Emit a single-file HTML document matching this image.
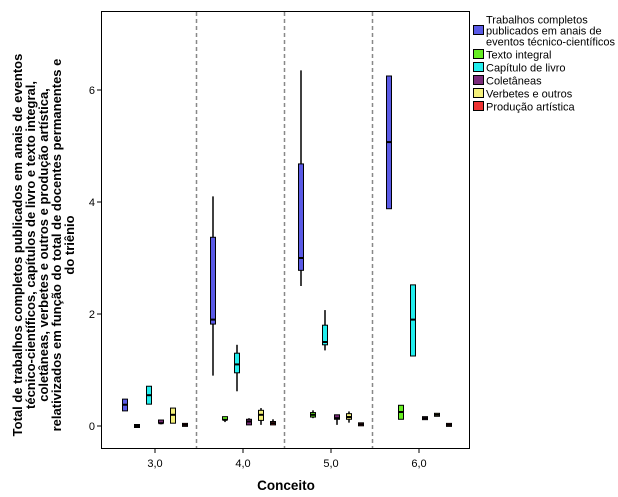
<!DOCTYPE html>
<html><head><meta charset="utf-8"><style>
body{margin:0;background:#fff;}
svg{display:block;font-family:"Liberation Sans",sans-serif;}
</style></head><body>
<svg id="c" width="618" height="497" viewBox="0 0 618 497">
<rect x="0" y="0" width="618" height="497" fill="#fff"/>
<rect x="101.5" y="11.5" width="368" height="437" fill="#fff" stroke="#000" stroke-width="1"/>
<g id="yt" font-weight="bold" font-size="13" text-anchor="middle" fill="#000">
<text transform="translate(22,245) rotate(-90)">Total de trabalhos completos publicados em anais de eventos</text>
<text transform="translate(35,245) rotate(-90)">técnico-científicos, capítulos de livro e texto integral,</text>
<text transform="translate(48,245) rotate(-90)">coletâneas, verbetes e outros e produção artística,</text>
<text transform="translate(61,245) rotate(-90)">relativizados em função do total de docentes permanentes e</text>
<text transform="translate(74,245) rotate(-90)">do triênio</text>
</g>
<text x="286" y="490" text-anchor="middle" font-weight="bold" font-size="13.5">Conceito</text>
<g id="legend" font-size="11"></g>
<g id="marks"></g>
</svg>
<script>
const categories=["3,0","4,0","5,0","6,0"];
const seriesNames=["Trabalhos completos publicados em anais de eventos técnico-científicos","Texto integral","Capítulo de livro","Coletâneas","Verbetes e outros","Produção artística"];
const colors=["#5a5ae6","#66ee22","#22eeee","#7a2a7a","#f4f07a","#ee3333"];
const yTicks=[0,2,4,6];
// [min, q1, median, q3, max] per category per series
const blue=[[0.27,0.27,0.38,0.48,0.48],[0.9,1.82,1.9,3.37,4.1],[2.5,2.78,3.0,4.68,6.35],[3.88,3.88,5.07,6.25,6.25]];
const green=[[0,0,0,0,0],[0.07,0.09,0.11,0.14,0.16],[0.14,0.16,0.2,0.24,0.28],[0.12,0.12,0.25,0.37,0.37]];
const cyan=[[0.39,0.39,0.55,0.71,0.71],[0.62,0.95,1.1,1.3,1.45],[1.35,1.45,1.5,1.8,2.07],[1.25,1.25,1.9,2.52,2.52]];
const purple=[[0.03,0.03,0.05,0.08,0.08],[0.02,0.02,0.08,0.12,0.14],[0.02,0.12,0.14,0.2,0.2],[0.14,0.14,0.14,0.14,0.14]];
const yellow=[[0.05,0.05,0.2,0.32,0.32],[0.02,0.1,0.2,0.28,0.32],[0.06,0.12,0.16,0.22,0.26],[0.2,0.2,0.2,0.2,0.2]];
const red=[[0.02,0.02,0.02,0.02,0.02],[0.02,0.02,0.05,0.08,0.12],[0.03,0.03,0.03,0.03,0.03],[0.02,0.02,0.02,0.02,0.02]];
const series=[blue,green,cyan,purple,yellow,red];

const NS="http://www.w3.org/2000/svg";
const marks=document.getElementById('marks');
function y(v){return 426-56*v;}
function xc(i){return 155+88*i;}
function mk(t,a,p){const e=document.createElementNS(NS,t);for(const k in a)e.setAttribute(k,a[k]);(p||marks).appendChild(e);return e;}

yTicks.forEach(t=>{
  const l=mk('line',{x1:97,x2:101,y1:y(t),y2:y(t),stroke:'#000'});
  
  
  const tx=mk('text',{x:95,y:y(t)+4,'text-anchor':'end','font-size':11});
  tx.textContent=t;
  
  
});
categories.forEach((c,i)=>{
  const l=mk('line',{x1:xc(i),x2:xc(i),y1:449,y2:453,stroke:'#000'});
  
  
  const tx=mk('text',{x:xc(i),y:467,'text-anchor':'middle','font-size':11});
  tx.textContent=c;
  
  
  if(i>0){
    const d=mk('line',{x1:xc(i)-46.5,x2:xc(i)-46.5,y1:12,y2:448,stroke:'#888','stroke-width':1.5,'stroke-dasharray':'4,3'});
    
    
  }
});
series.forEach((s,si)=>{
  s.forEach((b,ci)=>{
    const cx=xc(ci)-30+12*si;
    const g=mk('g',{});
    
    
    mk('line',{x1:cx,x2:cx,y1:y(b[4]),y2:y(b[0]),stroke:'#000','stroke-width':1.5},g);
    const h=Math.max(y(b[1])-y(b[3]),3);
    mk('rect',{x:cx-2.5,y:y(b[3])-(h>3?0:1.5),width:5,height:h,fill:colors[si],stroke:'#000','stroke-width':1},g);
    mk('line',{x1:cx-2.5,x2:cx+2.5,y1:y(b[2]),y2:y(b[2]),stroke:'#000','stroke-width':2},g);
  });
});
const lg=document.getElementById('legend');
const rows=[[0,["Trabalhos completos","publicados em anais de","eventos técnico-científicos"]],[1,["Texto integral"]],[2,["Capítulo de livro"]],[3,["Coletâneas"]],[4,["Verbetes e outros"]],[5,["Produção artística"]]];
let ly=20;
rows.forEach(([si,lines])=>{
  const g=mk('g',{},lg);
  
  
  const mid=ly+(lines.length-1)*5.5;
  mk('rect',{x:473.5,y:mid-5.5,width:10,height:9,fill:colors[si],stroke:'#000'},g);
  lines.forEach((t,k)=>{const tx=mk('text',{x:486,y:ly+3.5+k*11},g);tx.textContent=t;});
  ly+=lines.length*11+2;
});
</script>
</body></html>
